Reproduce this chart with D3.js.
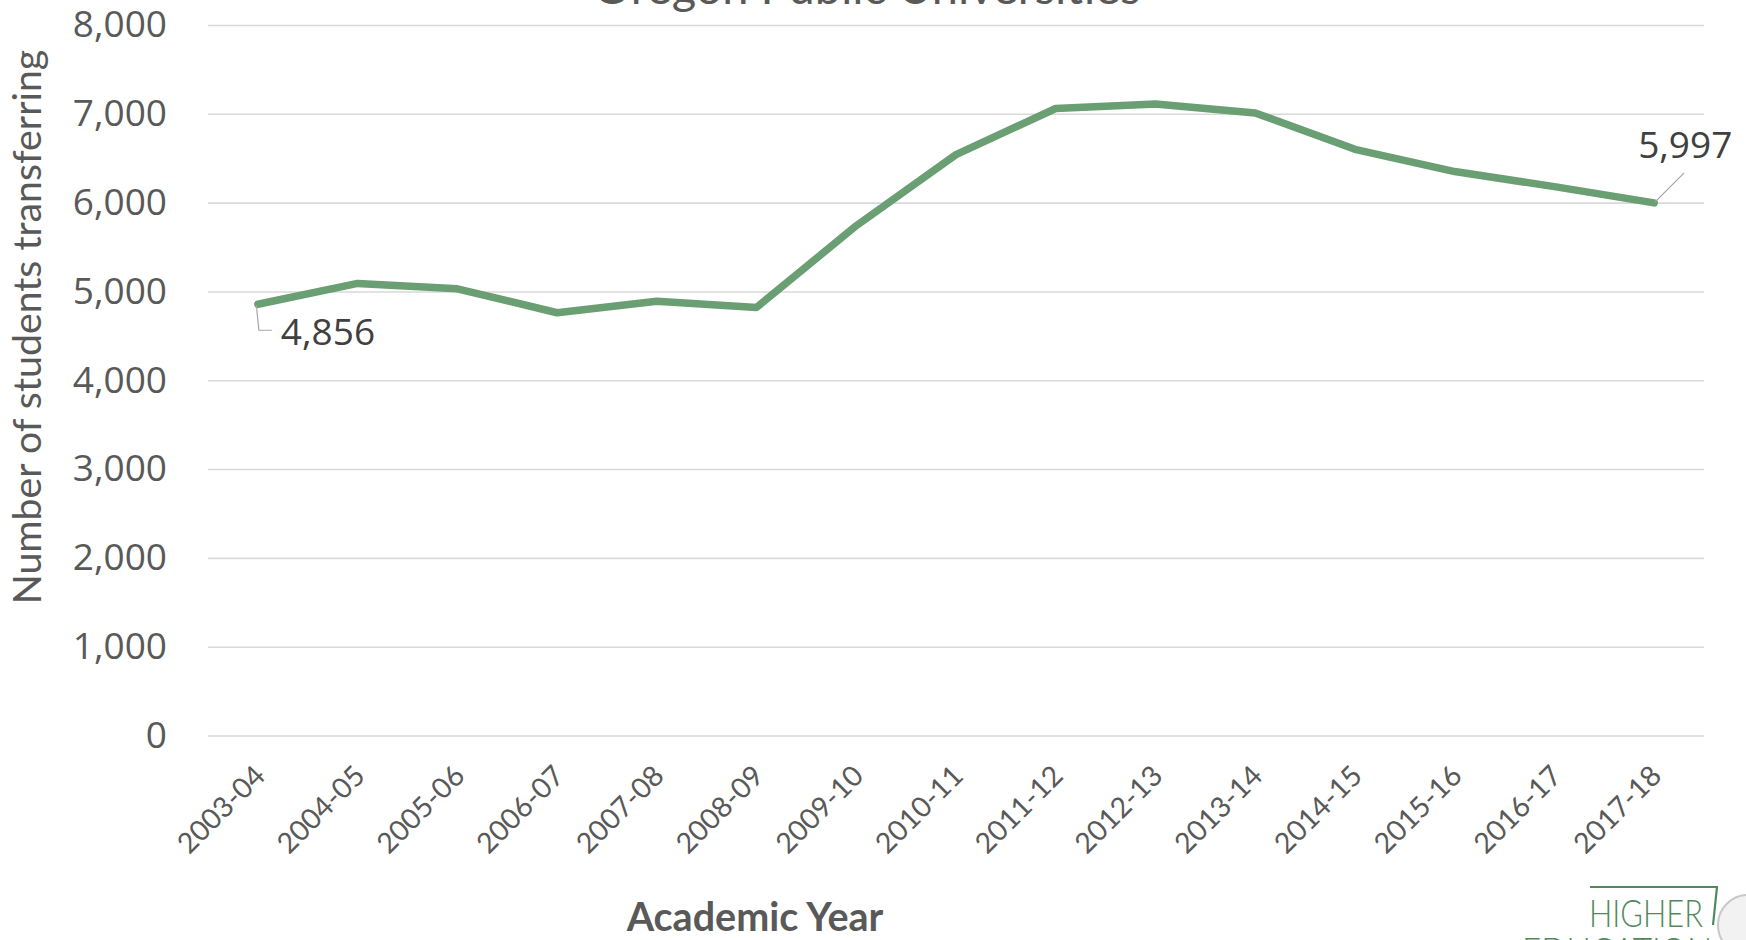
<!DOCTYPE html>
<html>
<head>
<meta charset="utf-8">
<script src="https://cdn.jsdelivr.net/npm/d3@7"></script>
<style>
  html, body { margin: 0; padding: 0; background: #ffffff; }
  svg { display: block; }
</style>
</head>
<body>
<svg id="chart" width="1746" height="940"></svg>
<script>
const categories = ["2003-04","2004-05","2005-06","2006-07","2007-08","2008-09","2009-10","2010-11","2011-12","2012-13","2013-14","2014-15","2015-16","2016-17","2017-18"];
const values = [4856, 5090, 5030, 4760, 4890, 4820, 5740, 6540, 7060, 7110, 7010, 6600, 6350, 6180, 5997];
const yTicks = [0, 1000, 2000, 3000, 4000, 5000, 6000, 7000, 8000];
const titleText = "Oregon Public Universities";
const yTitle = "Number of students transferring";
const xTitle = "Academic Year";

const svg = d3.select("#chart");
const plotLeft = 208, plotRight = 1704, plotTop = 25, plotBottom = 735.5;

const x = d3.scaleBand().domain(categories).range([plotLeft, plotRight]);
const y = d3.scaleLinear().domain([0, 8000]).range([plotBottom, plotTop]);
const cx = c => x(c) + x.bandwidth() / 2;

// title (cut off at top)
svg.append("text")
  .attr("x", 867).attr("y", 4)
  .attr("text-anchor", "middle")
  .style("font-family", "Lato, 'Open Sans', sans-serif")
  .style("font-size", "47px")
  .style("fill", "#595959")
  .text(titleText);

// y axis with gridlines
const yAxis = svg.append("g")
  .attr("transform", `translate(${plotLeft},0)`)
  .call(d3.axisLeft(y).tickValues(yTicks).tickSize(-(plotRight - plotLeft)).tickPadding(41).tickFormat(d3.format(",")));
yAxis.select(".domain").remove();
yAxis.selectAll(".tick line").attr("stroke", "#d9d9d9").attr("stroke-width", 1.6);
yAxis.selectAll(".tick text")
  .style("font-family", "'Open Sans', sans-serif")
  .style("font-size", "37px")
  .style("fill", "#595959");

// x axis
const xAxis = svg.append("g")
  .attr("transform", `translate(0,${plotBottom})`)
  .call(d3.axisBottom(x).tickSize(0));
xAxis.select(".domain").remove();
xAxis.selectAll(".tick text")
  .attr("x", 0).attr("y", 0).attr("dy", 0)
  .attr("text-anchor", "end")
  .attr("transform", "translate(9,42) rotate(-45)")
  .style("font-family", "Lato, sans-serif")
  .style("font-size", "28.5px")
  .style("fill", "#595959");

// y title
svg.append("text")
  .attr("transform", "translate(41,327) rotate(-90)")
  .attr("text-anchor", "middle")
  .style("font-family", "Lato, sans-serif")
  .style("font-size", "39.3px")
  .style("fill", "#595959")
  .text(yTitle);

// x title
svg.append("text")
  .attr("x", 755).attr("y", 931)
  .attr("text-anchor", "middle")
  .style("font-family", "Lato, sans-serif")
  .style("font-weight", "bold")
  .style("font-size", "39.5px")
  .style("fill", "#595959")
  .text(xTitle);

// line
const line = d3.line().x((d, i) => cx(categories[i])).y(d => y(d));
svg.append("path")
  .datum(values)
  .attr("d", line)
  .attr("fill", "none")
  .attr("stroke", "#6a9e73")
  .attr("stroke-width", 7.5)
  .attr("stroke-linejoin", "round")
  .attr("stroke-linecap", "round");

// data labels with leader lines
const fmt = d3.format(",");
const first = 0, last = values.length - 1;
const p0 = [cx(categories[first]), y(values[first])];
const p1 = [cx(categories[last]), y(values[last])];

svg.append("path")
  .attr("d", `M${p0[0] - 1.5},${p0[1] + 1}L${p0[0] + 1},${p0[1] + 26}L${p0[0] + 14},${p0[1] + 26}`)
  .attr("fill", "none").attr("stroke", "#a6a6a6").attr("stroke-width", 1.2);
svg.append("text")
  .attr("x", p0[0] + 23).attr("y", p0[1] + 41)
  .style("font-family", "'Open Sans', sans-serif")
  .style("font-size", "37px")
  .style("fill", "#404040")
  .text(fmt(values[first]));

svg.append("path")
  .attr("d", `M${p1[0] + 1},${p1[1] - 1}L${p1[0] + 30},${p1[1] - 30}`)
  .attr("fill", "none").attr("stroke", "#a6a6a6").attr("stroke-width", 1.2);
svg.append("text")
  .attr("x", p1[0] - 16).attr("y", p1[1] - 45)
  .style("font-family", "'Open Sans', sans-serif")
  .style("font-size", "37px")
  .style("fill", "#404040")
  .text(fmt(values[last]));

// logo (decoration, bottom right)
const logo = svg.append("g");
logo.append("circle")
  .attr("cx", 1748).attr("cy", 925).attr("r", 30)
  .attr("fill", "#f2f2f2").attr("stroke", "#c8c8c8").attr("stroke-width", 2);
logo.append("path")
  .attr("d", "M1590,887L1717,887L1713,925")
  .attr("fill", "none").attr("stroke", "#4f8a5c").attr("stroke-width", 2.2);
logo.append("text")
  .attr("x", 1589).attr("y", 927)
  .attr("textLength", 114).attr("lengthAdjust", "spacingAndGlyphs")
  .style("font-family", "Lato, sans-serif")
  .style("font-weight", 300)
  .style("font-size", "38px")
  .style("fill", "#4f8a5c")
  .text("HIGHER");
logo.append("text")
  .attr("x", 1522).attr("y", 965)
  .attr("textLength", 190).attr("lengthAdjust", "spacingAndGlyphs")
  .style("font-family", "Lato, sans-serif")
  .style("font-weight", 300)
  .style("font-size", "38px")
  .style("fill", "#4f8a5c")
  .text("EDUCATION");
</script>
</body>
</html>
